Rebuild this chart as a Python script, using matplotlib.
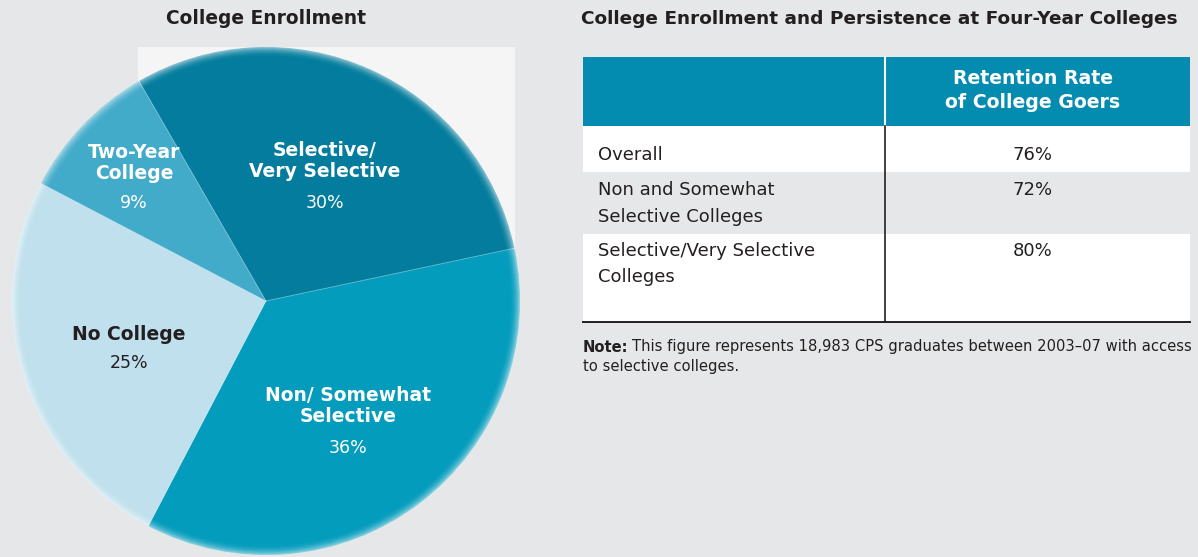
import numpy as np
import matplotlib
matplotlib.use("Agg")
import matplotlib.pyplot as plt
from matplotlib.patches import Rectangle
from matplotlib.colors import to_rgb

plt.rcParams['font.family'] = ['DejaVu Sans']

# pie data (clockwise from the upper left)
segments = ["Selective/\nVery Selective", "Non/ Somewhat\nSelective", "No College", "Two-Year\nCollege"]
shares = [30, 36, 25, 9]
seg_colors = ["#037c9d", "#049cbd", "#bfe0ec", "#43abca"]
seg_text = ["white", "white", "#231f20", "white"]

# table data
row_labels = ["Overall", "Non and Somewhat\nSelective Colleges", "Selective/Very Selective\nColleges"]
retention = [76, 72, 80]
col_header = "Retention Rate\nof College Goers"

BG = "#e6e7e8"
DARK = "#231f20"
TEAL = "#038cb0"


def tint(c, f):
    r = np.array(to_rgb(c))
    return tuple(r + (1 - r) * f)


fig = plt.figure(figsize=(11.98, 5.57), dpi=100, facecolor=BG)

# ---- pie ----
pa = fig.add_axes([12 / 1198, 2 / 557, 508 / 1198, 508 / 557])
pa.add_patch(Rectangle((-0.504, 0), 1.484, 1.0, color="#f5f5f5", zorder=0, lw=0))

# glowing rim: opaque pies from the outside in, lightening toward the edge
step = 1 / 254
n_rim = 10
for k in range(n_rim):
    f = 0.5 * ((n_rim - k) / n_rim) ** 2
    pa.pie(shares, radius=1 - k * step, colors=[tint(c, f) for c in seg_colors],
           startangle=120, counterclock=False, wedgeprops=dict(linewidth=0))
wedges, _ = pa.pie(shares, radius=1 - n_rim * step, colors=seg_colors, startangle=120,
                   counterclock=False, wedgeprops=dict(linewidth=0))
for w in wedges:
    t = np.deg2rad(w.theta1)
    pa.plot([0, np.cos(t)], [0, np.sin(t)], color="white", alpha=0.4, lw=0.6)
pa.set_xlim(-1, 1)
pa.set_ylim(-1, 1)
pa.set_aspect("equal")
pa.axis("off")

# ---- overlay in pixel coordinates ----
ov = fig.add_axes([0, 0, 1, 1])
ov.set_xlim(0, 1198)
ov.set_ylim(557, 0)
ov.axis("off")
ov.patch.set_alpha(0)

ov.text(266, 19, "College Enrollment", ha="center", va="center",
        fontsize=13.4, fontweight="bold", color=DARK)
ov.text(879, 19, "College Enrollment and Persistence at Four-Year Colleges",
        ha="center", va="center", fontsize=13.3, fontweight="bold", color=DARK)

# slice labels
name_pos = [(325, 161), (348, 406), (129, 334), (134, 163)]
pct_y = [203, 448, 363, 203]
for name, share, (x, y), py, c in zip(segments, shares, name_pos, pct_y, seg_text):
    ov.text(x, y, name, ha="center", va="center", fontsize=13.5, fontweight="bold",
            color=c, linespacing=1.15)
    ov.text(x, py, f"{share}%", ha="center", va="center", fontsize=12.5, color=c)

# table
x0, xm, x1 = 583, 885, 1190
ov.add_patch(Rectangle((x0, 57), x1 - x0, 69, color=TEAL, lw=0))
ov.plot([xm, xm], [57, 126], color="white", lw=1.5)
row_tops = [126, 172, 234, 322]
for i in range(len(row_labels)):
    if i % 2 == 0:
        ov.add_patch(Rectangle((x0, row_tops[i]), x1 - x0, row_tops[i + 1] - row_tops[i],
                               color="white", lw=0))
ov.plot([xm, xm], [126, 322], color=DARK, lw=1.2)
ov.plot([x0, x1], [322, 322], color=DARK, lw=1.4)

for j, line in enumerate(col_header.split("\n")):
    ov.text(1033, 78 + 24 * j, line, ha="center", va="center", fontsize=13.6,
            fontweight="bold", color="white")

first_line_y = [155, 190, 251]
for label, val, y in zip(row_labels, retention, first_line_y):
    for j, line in enumerate(label.split("\n")):
        ov.text(598, y + 26.5 * j, line, ha="left", va="center", fontsize=13, color=DARK)
    ov.text(1033, y, f"{val}%", ha="center", va="center", fontsize=13, color=DARK)

# note
note_b = ov.text(583, 347, "Note:", ha="left", va="center", fontsize=10.6,
                 fontweight="bold", color=DARK)
fig.canvas.draw()
bb = note_b.get_window_extent()
ov.text(583 + bb.width + 4, 347, "This figure represents 18,983 CPS graduates between 2003\u201307 with access",
        ha="left", va="center", fontsize=10.6, color=DARK)
ov.text(583, 367, "to selective colleges.", ha="left", va="center", fontsize=10.6, color=DARK)

fig.savefig("out.png", dpi=100, facecolor=BG)
